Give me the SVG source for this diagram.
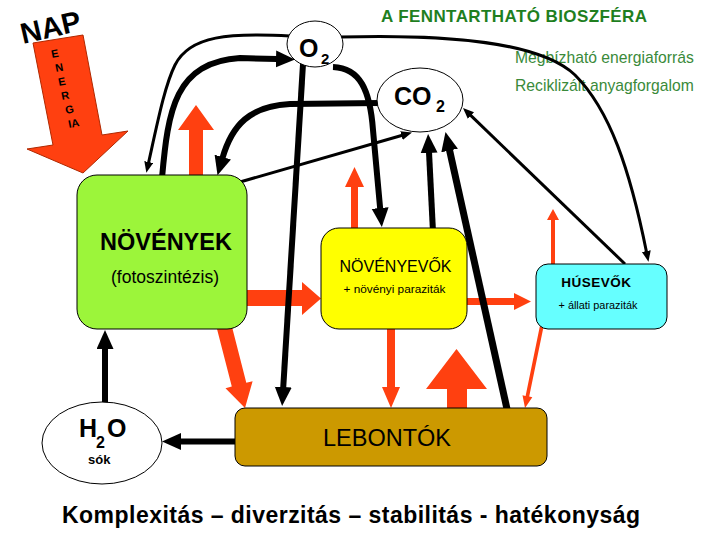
<svg xmlns="http://www.w3.org/2000/svg" width="720" height="540" viewBox="0 0 720 540">
<style>
text{font-family:"Liberation Sans",Arial,sans-serif;fill:#000}
.b{font-weight:bold}
.grn{fill:#1f7f1f}
.sub{fill:#3a8a3a}
.red{fill:#ff4010}
.tk{fill:none;stroke:#000;stroke-width:6}
.tn{fill:none;stroke:#000;stroke-width:3}
.box{stroke:#000;stroke-width:1}
.ell{fill:#fff;stroke:#000;stroke-width:1}
</style>
<defs>
<marker id="ahk" markerUnits="userSpaceOnUse" markerWidth="20" markerHeight="18" refX="1" refY="8.5" orient="auto"><path d="M0,0 L19,8.5 L0,17 z" fill="#000"/></marker>
<marker id="ahn" markerUnits="userSpaceOnUse" markerWidth="12" markerHeight="10" refX="1" refY="4.5" orient="auto"><path d="M0,0 L11,4.5 L0,9 z" fill="#000"/></marker>
</defs>
<rect width="720" height="540" fill="#fff"/>

<g id="titles">
<text class="b grn" x="381" y="22" font-size="17" textLength="266" lengthAdjust="spacing">A FENNTARTHATÓ BIOSZFÉRA</text>
<text class="sub" x="515" y="63" font-size="15.7">Megbízható energiaforrás</text>
<text class="sub" x="515" y="91" font-size="15.7">Reciklizált anyagforgalom</text>
<text class="b" x="62" y="523" font-size="23" textLength="578" lengthAdjust="spacing">Komplexitás – diverzitás – stabilitás - hatékonyság</text>
</g>

<g id="nap">
<polygon points="33,43 83,35 102,135 128,131 83,173 27,149 53,145" fill="#ff4010" stroke="#b02800" stroke-width="1"/>
<text class="b" x="23" y="44" font-size="29" transform="rotate(-13 23 44)">NAP</text>
<g class="b" font-size="11">
<text x="52" y="58" transform="rotate(-11 52 58)">E</text>
<text x="56" y="72" transform="rotate(-11 56 72)">N</text>
<text x="59" y="86" transform="rotate(-11 59 86)">E</text>
<text x="62" y="100" transform="rotate(-11 62 100)">R</text>
<text x="66" y="114" transform="rotate(-11 66 114)">G</text>
<text x="69" y="128" transform="rotate(-11 69 128)">IA</text>
</g>
</g>

<g id="connectors">
<!-- red flows -->
<polygon class="red" points="189,180 189,130 178,130 196,105 214,130 203,130 203,180"/>
<polygon class="red" points="351,232 351,187 345,187 354.5,167 364,187 358,187 358,232"/>
<polygon class="red" points="551,268 551,220 547,220 553,209 559,220 555,220 555,268"/>
<polygon class="red" points="240,290 302,290 302,282 321,298.5 302,315 302,306 240,306"/>
<polygon class="red" points="462,298 514,298 514,293 531,301.5 514,310 514,305 462,305"/>
<polygon class="red" points="215.4,322.7 230,318.9 246.3,382.8 252.6,381.2 245,408 225.5,388.2 231.8,386.6"/>
<polygon class="red" points="387,325 395,325 395,387 400,387 391,408 382,387 387,387"/>
<polygon class="red" points="447,412 447,389 426,389 456.5,349 487,389 467,389 467,412"/>
<polygon class="red" points="540.2,324.6 543.8,325.4 529.2,396.6 532.3,397.2 525,408 522.5,395.2 525.6,395.9"/>
<!-- black flows -->
<path class="tn" d="M290,36 C230,33 190,35 175,65 C165,85 158,120 148.5,163" marker-end="url(#ahn)"/>
<path class="tn" d="M340,37 C450,34 540,42 575,75 C610,110 630,170 646.5,252" marker-end="url(#ahn)"/>
<path class="tk" d="M162,178 C168,110 175,62 240,58 L277,59" marker-end="url(#ahk)"/>
<path class="tk" d="M303,64 L283.2,388" marker-end="url(#ahk)"/>
<path class="tk" d="M333,67 C360,68 370,90 373,130 L380.2,209" marker-end="url(#ahk)"/>
<path class="tk" d="M380,103 L290,104 C250,106 232,125 222.5,158" marker-end="url(#ahk)"/>
<path class="tn" d="M240,182 L402.4,135.3" marker-end="url(#ahn)"/>
<path class="tk" d="M433,232 L429,152" marker-end="url(#ahk)"/>
<path class="tk" style="stroke-width:7" d="M507,409 L449.4,149.5" marker-end="url(#ahk)"/>
<path class="tn" d="M625,264 L470.2,114.9" marker-end="url(#ahn)"/>
<path class="tk" d="M105,404 L105,348" marker-end="url(#ahk)"/>
<path class="tk" d="M238,441.5 L180,441.5" marker-end="url(#ahk)"/>
</g>

<g id="o2">
<ellipse class="ell" cx="315" cy="44" rx="28" ry="23"/>
<text class="b" x="299" y="57" font-size="25">O</text>
<text class="b" x="321" y="64" font-size="15">2</text>
</g>

<g id="co2">
<ellipse class="ell" cx="420" cy="100" rx="43" ry="32"/>
<text class="b" x="394" y="105" font-size="25">CO</text>
<text class="b" x="436" y="112" font-size="16">2</text>
</g>

<g id="novenyek">
<rect class="box" x="77" y="175" width="170" height="154" rx="20" fill="#9cf53a"/>
<text class="b" x="166" y="250" font-size="23.5" text-anchor="middle">NÖVÉNYEK</text>
<text x="165" y="283" font-size="17.5" text-anchor="middle">(fotoszintézis)</text>
</g>

<g id="novenyevok">
<rect class="box" x="321" y="228" width="146" height="101" rx="18" fill="#ffff00"/>
<text x="395.5" y="272" font-size="16" text-anchor="middle">NÖVÉNYEVŐK</text>
<text x="394.5" y="293" font-size="11.8" text-anchor="middle">+ növényi paraziták</text>
</g>

<g id="husevok">
<rect class="box" x="536" y="264" width="131" height="65" rx="12" fill="#66ffff"/>
<text class="b" x="596.5" y="287" font-size="13.5" text-anchor="middle" letter-spacing="0.5">HÚSEVŐK</text>
<text x="598" y="309" font-size="10.9" text-anchor="middle">+ állati paraziták</text>
</g>

<g id="lebontok">
<rect class="box" x="235" y="408" width="312" height="58" rx="10" fill="#cc9900"/>
<text x="323" y="446" font-size="23.5">LEBONTÓK</text>
</g>

<g id="h2o">
<ellipse class="ell" cx="102" cy="443" rx="60" ry="41"/>
<text class="b" x="79" y="437" font-size="25">H</text>
<text class="b" x="96" y="448" font-size="16">2</text>
<text class="b" x="107" y="437" font-size="25">O</text>
<text class="b" x="88" y="464" font-size="13">sók</text>
</g>
</svg>
